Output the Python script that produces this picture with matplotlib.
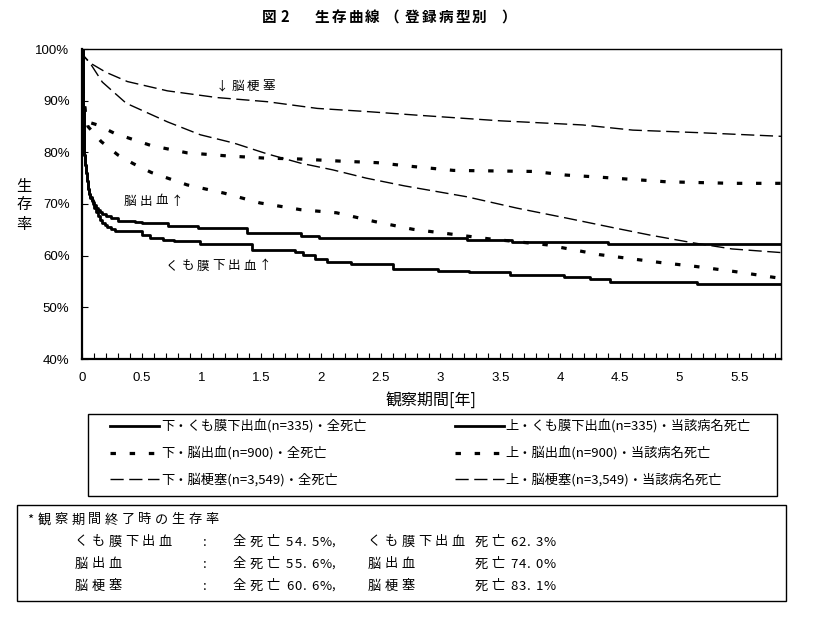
import matplotlib
matplotlib.use("Agg")
import matplotlib.pyplot as plt
from matplotlib.patches import Rectangle
from matplotlib.ticker import MultipleLocator, FuncFormatter

plt.rcParams['font.family'] = ['Noto Sans CJK JP', 'DejaVu Sans']

# くも膜下出血 (steps)
sah_t_up = [0, 0.005, 0.01, 0.015, 0.02, 0.025, 0.03, 0.04, 0.05, 0.06, 0.07, 0.08, 0.09, 0.10,
            0.115, 0.13, 0.15, 0.17, 0.20, 0.24, 0.30, 0.44, 0.50, 0.72, 0.97, 1.38, 1.83, 1.98,
            3.22, 3.60, 4.40, 5.85]
sah_v_up = [100, 94, 88, 83, 79.5, 77.5, 76, 74.5, 73, 72, 71.3, 70.8, 70.3, 69.8,
            69.2, 68.8, 68.4, 68.0, 67.6, 67.2, 66.8, 66.5, 66.3, 65.8, 65.3, 64.4, 63.9, 63.5,
            63.1, 62.7, 62.3, 62.3]
sah_t_all = [0, 0.005, 0.01, 0.015, 0.02, 0.025, 0.03, 0.04, 0.05, 0.06, 0.07, 0.08, 0.09, 0.10,
             0.115, 0.13, 0.15, 0.17, 0.19, 0.21, 0.24, 0.28, 0.50, 0.57, 0.68, 0.77, 0.99, 1.42,
             1.78, 1.85, 1.95, 2.05, 2.25, 2.60, 2.98, 3.24, 3.58, 4.03, 4.25, 4.42, 5.15, 5.85]
sah_v_all = [100, 94, 88, 83, 79.5, 77.5, 76, 74.5, 73, 72, 71.2, 70.6, 70.0, 69.3,
             68.4, 67.6, 66.9, 66.3, 65.9, 65.6, 65.1, 64.7, 64.0, 63.5, 63.1, 62.9, 62.3, 61.1,
             60.7, 60.2, 59.3, 58.7, 58.4, 57.5, 57.1, 56.8, 56.2, 55.8, 55.5, 55.0, 54.5, 54.5]

# 脳出血
ich_t_up = [0, 0.01, 0.03, 0.06, 0.13, 0.27, 0.58, 0.88, 1.22, 1.52, 1.83, 2.16, 2.47, 2.75,
            3.11, 3.78, 4.05, 4.33, 4.89, 5.44, 5.85]
ich_v_up = [100, 92, 87, 85.8, 85.3, 83.7, 81.3, 79.9, 79.3, 78.9, 78.7, 78.3, 78.0, 77.3,
            76.5, 76.3, 75.6, 75.2, 74.3, 74.0, 74.0]
ich_t_all = [0, 0.01, 0.03, 0.05, 0.16, 0.30, 0.43, 0.58, 0.88, 1.19, 1.49, 1.83, 2.13, 2.45,
             2.77, 3.08, 3.39, 3.89, 4.33, 4.83, 5.14, 5.47, 5.85]
ich_v_all = [100, 92, 87, 85.0, 82.1, 79.5, 77.8, 76.1, 73.7, 72.1, 70.2, 68.9, 68.3, 66.6,
             65.1, 64.2, 63.3, 62.1, 60.2, 58.7, 57.9, 56.9, 55.6]

# 脳梗塞
ci_t_up = [0, 0.02, 0.075, 0.2, 0.38, 0.715, 1.13, 1.55, 1.97, 2.38, 2.80, 3.50, 4.19, 4.61,
           5.17, 5.85]
ci_v_up = [100, 98.5, 97.2, 95.5, 93.7, 91.9, 90.6, 89.8, 88.5, 87.9, 87.2, 86.1, 85.3, 84.3,
           83.8, 83.1]
ci_t_all = [0, 0.02, 0.075, 0.17, 0.37, 0.715, 0.99, 1.27, 1.55, 1.83, 2.10, 2.38, 2.70, 3.22,
            3.64, 4.05, 4.47, 4.75, 5.11, 5.44, 5.85]
ci_v_all = [100, 98.5, 97.0, 93.6, 89.5, 85.9, 83.4, 81.8, 79.7, 77.9, 76.6, 75.0, 73.5, 71.4,
            69.2, 67.3, 65.3, 64.0, 62.5, 61.3, 60.6]

labels_all = ['下・くも膜下出血(n=335)・全死亡', '下・脳出血(n=900)・全死亡',
              '下・脳梗塞(n=3,549)・全死亡']
labels_up = ['上・くも膜下出血(n=335)・当該病名死亡', '上・脳出血(n=900)・当該病名死亡',
             '上・脳梗塞(n=3,549)・当該病名死亡']

names = ['くも膜下出血', '脳出血', '脳梗塞']
end_all = [54.5, 55.6, 60.6]
end_up = [62.3, 74.0, 83.1]

W, H = 813, 619


def fx(x):
    return x / W


def fy(y):
    return 1 - y / H


fig = plt.figure(figsize=(8.13, 6.19), dpi=100)
ax = fig.add_axes([fx(82), fy(359), (781 - 82) / W, (359 - 49) / H])

advance = {'%': 11.5, ',': 5.0, '.': 8.5}


def spaced(x, y, s, full=16.7, half=8.4, **kw):
    # text with wide letter spacing, one glyph at a time (pixel coords)
    for ch in s:
        if ch != ' ':
            fig.text(fx(x), fy(y), ch, ha='left', va='center', **kw)
        if ord(ch) > 0x2000:
            x += full
        else:
            x += advance.get(ch, half)
    return x


solid = dict(color='black', lw=2.0, drawstyle='steps-post')
dotted = dict(color='black', lw=2.3, dashes=(1.7, 4.3))
dashed = dict(color='black', lw=1.0, dashes=(9.5, 4.0))

l1, = ax.plot(sah_t_all, sah_v_all, **solid)
l2, = ax.plot(ich_t_all, ich_v_all, **dotted)
l3, = ax.plot(ci_t_all, ci_v_all, **dashed)
u1, = ax.plot(sah_t_up, sah_v_up, **solid)
u2, = ax.plot(ich_t_up, ich_v_up, **dotted)
u3, = ax.plot(ci_t_up, ci_v_up, **dashed)

ax.set_xlim(0, 5.85)
ax.set_ylim(40, 100)
ax.xaxis.set_major_locator(MultipleLocator(0.5))
ax.xaxis.set_minor_locator(MultipleLocator(0.1))
ax.yaxis.set_major_locator(MultipleLocator(10))
ax.xaxis.set_major_formatter(FuncFormatter(lambda v, p: '%g' % v))
ax.yaxis.set_major_formatter(FuncFormatter(lambda v, p: '%d%%' % v))
ax.tick_params(axis='x', which='both', direction='in', length=4, width=0.8, pad=9)
ax.tick_params(axis='y', which='major', direction='in', length=4, width=0.8, pad=9)
for lab in ax.get_xticklabels() + ax.get_yticklabels():
    lab.set_fontfamily('Liberation Sans')
    lab.set_fontsize(9.5)
ax.spines['left'].set_linewidth(1.6)
ax.spines['bottom'].set_linewidth(1.6)
ax.spines['top'].set_linewidth(1.0)
ax.spines['right'].set_linewidth(1.0)

# curve labels
spaced(216, 86, '↓脳梗塞', full=15.5, fontsize=9)
spaced(124, 201, '脳出血↑', full=15.5, fontsize=9)
spaced(166, 266, 'くも膜下出血↑', full=15.5, fontsize=9)

# title
tt = dict(fontsize=10.5, fontweight='bold')
spaced(262, 17, '図', **tt)
spaced(280, 17, '2', **tt)
spaced(315, 17, '生存曲線', **tt)
spaced(384, 17, '（', **tt)
spaced(405, 17, '登録病型別', **tt)
spaced(501, 17, '）', **tt)

for ch, y in zip('生存率', [186, 205, 224]):
    fig.text(fx(24), fy(y), ch, fontsize=11, ha='center', va='center')
fig.text(fx(431), fy(400), '観察期間[年]', fontsize=11.5, ha='center', va='center')

leg_kw = dict(loc='upper left', frameon=False, fontsize=9.5, borderaxespad=0, borderpad=0,
              handlelength=3.7, handletextpad=0.15, labelspacing=0.95)
leg1 = fig.legend([l1, l2, l3], labels_all, bbox_to_anchor=(fx(110), fy(420)), **leg_kw)
leg2 = fig.legend([u1, u2, u3], labels_up, bbox_to_anchor=(fx(455), fy(420)), **leg_kw)
fig.add_artist(Rectangle((fx(88), fy(496)), (777 - 88) / W, (496 - 414) / H,
                         transform=fig.transFigure, fill=False, lw=1.0, ec='black'))

# 観察期間終了時の生存率
fig.add_artist(Rectangle((fx(17), fy(601)), (786 - 17) / W, (601 - 505) / H,
                         transform=fig.transFigure, fill=False, lw=1.0, ec='black'))
tk = dict(fontsize=9.5)
spaced(27, 520, '*', **tk)
spaced(38, 520, '観察期間終了時の生存率', **tk)
rows_y = [542, 564, 586]
for name, a, u, y in zip(names, end_all, end_up, rows_y):
    spaced(75, y, name, **tk)
    spaced(203, y, ':', **tk)
    spaced(233, y, '全死亡', **tk)
    spaced(286, y, '%.1f%%,' % a, **tk)
    spaced(368, y, name, **tk)
    spaced(475, y, '死亡', **tk)
    spaced(510, y, '%.1f%%' % u, **tk)

fig.savefig('out.png', dpi=100)
